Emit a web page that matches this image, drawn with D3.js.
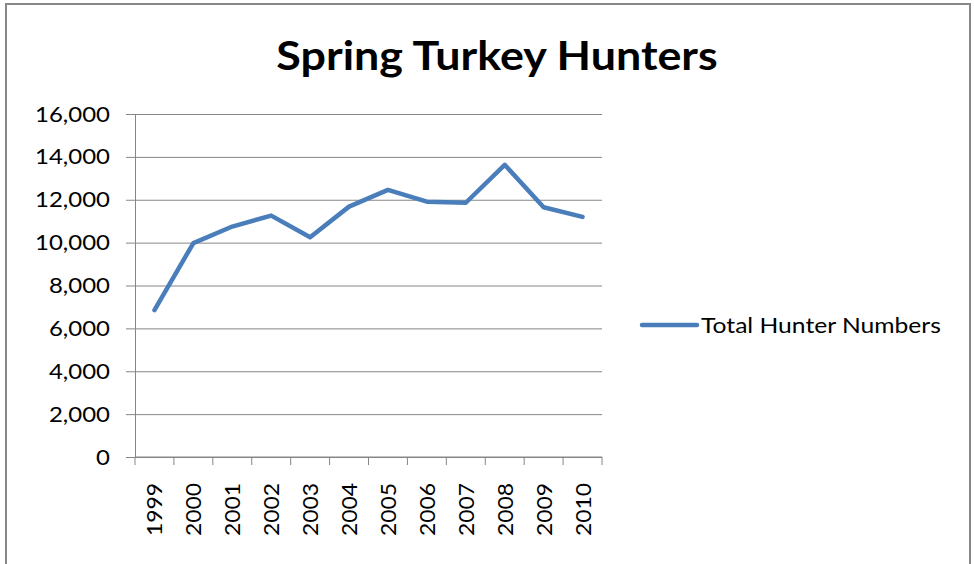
<!DOCTYPE html>
<html>
<head>
<meta charset="utf-8">
<script src="https://cdn.jsdelivr.net/npm/d3@7"></script>
<style>
    body { margin: 0; background: #fff; }
    text { font-family: Lato, 'Open Sans', sans-serif; fill: #000; }
</style>
</head>
<body>
<div id="chart"></div>
<script>
const years = ['1999', '2000', '2001', '2002', '2003', '2004',
    '2005', '2006', '2007', '2008', '2009', '2010'];
const hunters = [6850, 9980, 10750, 11260, 10250, 11680,
    12460, 11910, 11860, 13630, 11650, 11200];
const yTicks = [0, 2000, 4000, 6000, 8000, 10000, 12000, 14000, 16000];
const seriesName = 'Total Hunter Numbers';
const title = 'Spring Turkey Hunters';

let width = 974;
let height = 564;
let margin = { left: 135, right: 372, top: 114, bottom: 107 };

// the reference text is a little wider than Lato, so stretch glyphs
function stretch(sel, k) {
    sel.each(function () {
        let w = this.getComputedTextLength();
        d3.select(this)
            .attr('textLength', w * k)
            .attr('lengthAdjust', 'spacingAndGlyphs');
    });
}

const svg = d3
    .select('#chart')
    .append('svg')
    .attr('width', width)
    .attr('height', height);

// outer chart frame (bottom runs off the picture)
svg.append('rect')
    .attr('x', 6)
    .attr('y', 4)
    .attr('width', 964)
    .attr('height', 620)
    .attr('fill', '#fff')
    .attr('stroke', '#878787')
    .attr('stroke-width', 2);

let x = d3
    .scaleBand()
    .domain(years)
    .range([margin.left, width - margin.right]);
let y = d3
    .scaleLinear()
    .domain([0, 16000])
    .range([height - margin.bottom, margin.top]);

svg.append('text')
    .attr('x', 497)
    .attr('y', 70)
    .attr('text-anchor', 'middle')
    .attr('font-size', 40)
    .attr('font-weight', 'bold')
    .text(title)
    .call(stretch, 1.12);

// gridlines + y axis
const yAxis = d3
    .axisLeft(y)
    .tickValues(yTicks)
    .tickFormat(d3.format(','))
    .tickSize(9)
    .tickPadding(16);
svg.append('g')
    .attr('transform', `translate(${margin.left},0)`)
    .call(yAxis)
    .call((g) =>
        g.selectAll('.tick text')
            .attr('font-size', 22)
            .attr('font-family', null)
            .call(stretch, 1.09),
    )
    .call((g) => g.selectAll('.tick line, .domain').attr('stroke', '#868686'))
    .call((g) =>
        g.selectAll('.tick')
            .append('line')
            .attr('x2', width - margin.right - margin.left)
            .attr('stroke', '#868686'),
    );

// x axis with ticks between categories
svg.append('g')
    .attr('transform', `translate(0,${y(0)})`)
    .call((g) =>
        g.append('line')
            .attr('x1', margin.left)
            .attr('x2', width - margin.right)
            .attr('stroke', '#868686'),
    )
    .call((g) =>
        g.selectAll('line.tk')
            .data(years.concat(['end']))
            .join('line')
            .attr('class', 'tk')
            .attr('x1', (d, i) => margin.left + i * x.step())
            .attr('x2', (d, i) => margin.left + i * x.step())
            .attr('y2', 8)
            .attr('stroke', '#868686'),
    )
    .call((g) =>
        g.selectAll('text')
            .data(years)
            .join('text')
            .attr('transform', (d) =>
                `translate(${x(d) + x.bandwidth() / 2 + 8},26) rotate(-90)`)
            .attr('text-anchor', 'end')
            .attr('font-size', 22)
            .text((d) => d)
            .call(stretch, 1.04),
    );

const line = d3
    .line()
    .x((d, i) => x(years[i]) + x.bandwidth() / 2)
    .y((d) => y(d));

svg.append('path')
    .datum(hunters)
    .attr('d', line)
    .attr('fill', 'none')
    .attr('stroke', '#4a7ebb')
    .attr('stroke-width', 4.5)
    .attr('stroke-linejoin', 'round')
    .attr('stroke-linecap', 'round');

// legend
const legend = svg.append('g').attr('transform', 'translate(642,325)');
legend.append('line')
    .attr('x2', 55)
    .attr('stroke', '#4a7ebb')
    .attr('stroke-width', 4.5)
    .attr('stroke-linecap', 'round');
legend.append('text')
    .attr('x', 59)
    .attr('y', 8)
    .attr('font-size', 22)
    .text(seriesName)
    .call(stretch, 1.12);
</script>
</body>
</html>
